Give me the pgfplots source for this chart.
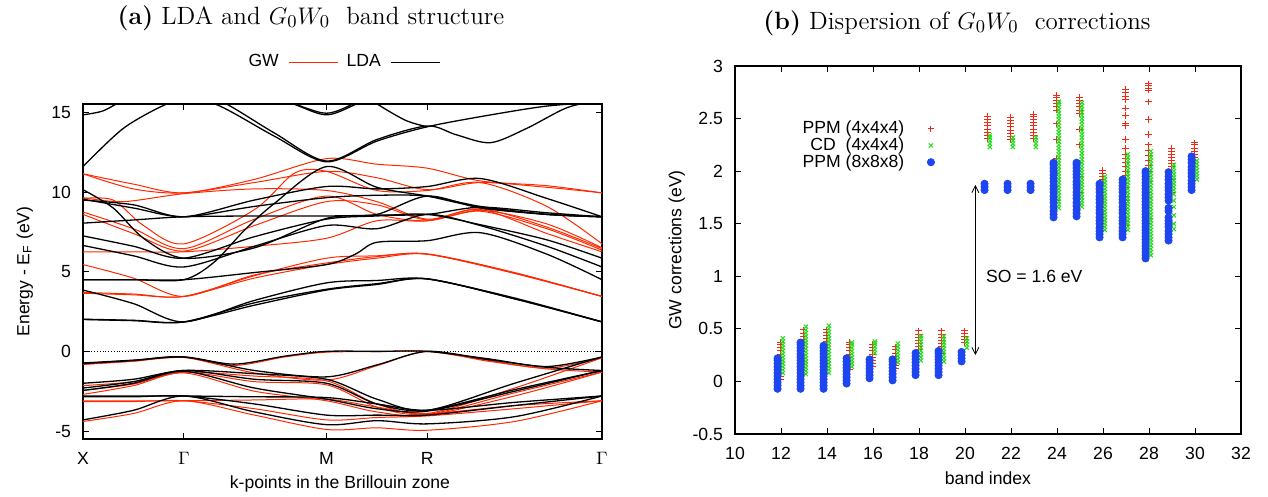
\documentclass[border=0pt]{standalone}
\usepackage{pgfplots}
\pgfplotsset{compat=1.18}
\usepackage{fontspec}
\usetikzlibrary{arrows.meta}
\newfontfamily\helv{Liberation Sans}
\newcommand{\lab}{\helv\fontsize{8.8}{10}\selectfont}

\definecolor{gwred}{RGB}{255,40,0}
\definecolor{ppmred}{RGB}{240,40,20}
\definecolor{cdgreen}{RGB}{40,220,30}
\definecolor{ppmblue}{RGB}{30,70,240}

\pgfplotsset{
  gw/.style={color=gwred, line width=0.5pt, smooth, forget plot},
  lda/.style={color=black, line width=0.65pt, smooth, forget plot},
  gnubox/.style={
    scale only axis,
    tick align=inside, major tick length=3pt,
    tick style={line width=0.5pt, black},
    axis line style={line width=0.7pt},
    tick label style={font=\lab},
    label style={font=\lab},
    /pgf/number format/assume math mode=true,
    yticklabel style={xshift=-2.5pt},
    xticklabel style={yshift=-3pt},
  },
}

\begin{document}
\begin{tikzpicture}
\useasboundingbox (0,0) rectangle (634pt,248.5pt);

% ---------------- (a) band structure ----------------
\node[font=\fontsize{12.5}{14}\selectfont] at (155.5pt,239.5pt) {\textbf{(a)} LDA and $G_0W_0$\ \ band structure};

\begin{axis}[gnubox,
  at={(41.5pt,29pt)}, anchor=south west,
  width=259.5pt, height=167.5pt,
  xmin=0, xmax=2.5731, ymin=-5.5, ymax=15.53,
  xtick={0,0.5,1.2071,1.7071,2.5731},
  xticklabels={X,$\Gamma$,M,R,$\Gamma$},
  ytick={-5,0,5,10,15},
  xlabel={k-points in the Brillouin zone},
  ylabel={Energy - E\textsubscript{F} (eV)},
  xlabel style={at={(axis description cs:0.495,-0.135)}, anchor=center},
  ylabel style={at={(axis description cs:-0.112,0.5)}, anchor=center},
  legend style={at={(axis description cs:0.5,1.125)}, anchor=center, draw=none, fill=none,
    font=\lab, legend columns=2,
    /tikz/every odd column/.append style={column sep=3pt},
    /tikz/every even column/.append style={column sep=2pt}},
  legend plot pos=right,
  legend image post style={xscale=1.42},
]
% Fermi level
\addplot[black, densely dotted, line width=0.4pt, forget plot] coordinates {(0,0) (2.5731,0)};

% GW bands: valence
\addplot[gw] coordinates {(0,-0.80)(0.25,-0.60)(0.5,-0.38)(0.75,-0.88)(1.0,-0.35)(1.2071,-0.05)(1.457,-0.02)(1.7071,0)(2.0,-0.55)(2.3,-1.05)(2.5731,-0.40)};
\addplot[gw] coordinates {(0,-0.82)(0.25,-0.62)(0.5,-0.38)(0.85,-1.35)(1.2071,-1.80)(1.457,-0.90)(1.7071,0)(2.0,-0.60)(2.3,-1.10)(2.5731,-1.30)};
\addplot[gw] coordinates {(0,-2.15)(0.25,-1.90)(0.5,-1.30)(0.85,-1.55)(1.2071,-1.85)(1.457,-3.30)(1.7071,-3.90)(2.14,-2.30)(2.5731,-0.40)};
\addplot[gw] coordinates {(0,-2.45)(0.25,-2.05)(0.5,-1.30)(0.85,-1.90)(1.2071,-2.10)(1.457,-3.50)(1.7071,-3.95)(2.14,-2.60)(2.5731,-1.30)};
\addplot[gw] coordinates {(0,-2.70)(0.25,-2.15)(0.5,-1.35)(0.85,-2.50)(1.2071,-3.10)(1.457,-3.80)(1.7071,-4.00)(2.14,-2.80)(2.5731,-1.30)};
\addplot[gw] coordinates {(0,-3.10)(0.25,-3.10)(0.5,-3.10)(0.85,-3.05)(1.2071,-3.00)(1.457,-3.50)(1.7071,-3.90)(2.14,-3.40)(2.5731,-3.10)};
\addplot[gw] coordinates {(0,-3.15)(0.25,-3.15)(0.5,-3.10)(0.85,-3.60)(1.2071,-4.30)(1.457,-4.15)(1.7071,-4.05)(2.14,-3.60)(2.5731,-3.10)};
\addplot[gw] coordinates {(0,-4.40)(0.25,-3.90)(0.5,-3.10)(0.85,-4.00)(1.2071,-4.90)(1.457,-4.80)(1.7071,-4.95)(2.14,-4.40)(2.5731,-3.10)};
% GW bands: conduction
\addplot[gw] coordinates {(0,3.65)(0.25,3.55)(0.5,3.45)(0.85,4.60)(1.2071,5.45)(1.457,5.85)(1.7071,6.10)(2.14,4.90)(2.5731,3.45)};
\addplot[gw] coordinates {(0,5.45)(0.25,4.60)(0.5,3.45)(0.85,4.80)(1.2071,5.55)(1.457,5.95)(1.7071,6.12)(2.14,4.95)(2.5731,3.45)};
\addplot[gw] coordinates {(0,3.70)(0.25,3.60)(0.5,3.45)(0.85,4.75)(1.2071,5.85)(1.457,6.00)(1.7071,6.10)(2.14,4.90)(2.5731,3.45)};
\addplot[gw] coordinates {(0,6.25)(0.25,6.25)(0.5,6.25)(0.85,6.60)(1.2071,7.10)(1.457,8.20)(1.7071,8.20)(1.97,8.90)(2.3,7.40)(2.5731,6.25)};
\addplot[gw] coordinates {(0,8.60)(0.25,7.40)(0.5,6.30)(0.85,7.90)(1.2071,9.40)(1.457,9.20)(1.7071,8.25)(1.97,8.80)(2.3,7.70)(2.5731,6.35)};
\addplot[gw] coordinates {(0,8.75)(0.25,7.70)(0.5,6.45)(0.85,8.30)(1.2071,9.75)(1.457,8.60)(1.7071,8.20)(1.97,8.85)(2.3,8.00)(2.5731,6.50)};
\addplot[gw] coordinates {(0,9.60)(0.15,9.50)(0.3,7.90)(0.5,6.75)(0.85,8.90)(1.05,11.20)(1.2071,11.30)(1.457,10.10)(1.7071,10.10)(1.97,10.60)(2.3,9.10)(2.5731,6.75)};
\addplot[gw] coordinates {(0,11.15)(0.25,10.20)(0.5,9.95)(0.85,10.60)(1.2071,11.30)(1.457,10.90)(1.7071,10.15)(1.97,10.60)(2.3,10.30)(2.5731,9.95)};
\addplot[gw] coordinates {(0,11.15)(0.25,10.50)(0.5,9.95)(0.85,10.80)(1.2071,12.10)(1.457,11.75)(1.7071,11.50)(1.97,10.70)(2.3,10.40)(2.5731,9.95)};
\addplot[gw] coordinates {(0,9.65)(0.2,9.40)(0.5,9.90)(0.85,10.20)(1.2071,10.10)(1.457,9.40)(1.7071,8.30)(1.97,8.95)(2.3,7.80)(2.5731,6.45)};

% LDA bands: valence
\addplot[lda] coordinates {(0,-0.73)(0.25,-0.55)(0.5,-0.35)(0.75,-0.80)(1.0,-0.30)(1.2071,0)(1.457,0)(1.7071,0)(2.0,-0.45)(2.3,-0.95)(2.5731,-0.35)};
\addplot[lda] coordinates {(0,-0.76)(0.25,-0.57)(0.5,-0.35)(0.85,-1.20)(1.2071,-1.60)(1.457,-0.85)(1.7071,0)(2.0,-0.50)(2.3,-1.00)(2.5731,-1.20)};
\addplot[lda] coordinates {(0,-2.00)(0.25,-1.75)(0.5,-1.20)(0.85,-1.40)(1.2071,-1.75)(1.457,-3.00)(1.7071,-3.70)(2.14,-2.00)(2.5731,-0.35)};
\addplot[lda] coordinates {(0,-2.30)(0.25,-1.90)(0.5,-1.20)(0.85,-1.75)(1.2071,-2.00)(1.457,-3.30)(1.7071,-3.70)(2.14,-2.40)(2.5731,-1.20)};
\addplot[lda] coordinates {(0,-2.45)(0.25,-2.00)(0.5,-1.25)(0.85,-2.30)(1.2071,-3.00)(1.457,-3.60)(1.7071,-3.75)(2.14,-2.50)(2.5731,-1.20)};
\addplot[lda] coordinates {(0,-2.80)(0.25,-2.80)(0.5,-2.80)(0.85,-2.85)(1.2071,-2.90)(1.457,-3.30)(1.7071,-3.70)(2.14,-3.20)(2.5731,-2.80)};
\addplot[lda] coordinates {(0,-2.85)(0.25,-2.85)(0.5,-2.80)(0.85,-3.30)(1.2071,-4.00)(1.457,-4.00)(1.7071,-4.00)(2.14,-3.40)(2.5731,-2.80)};
\addplot[lda] coordinates {(0,-4.30)(0.25,-3.70)(0.5,-2.80)(0.85,-3.80)(1.2071,-4.60)(1.457,-4.35)(1.7071,-4.55)(2.14,-4.10)(2.5731,-2.80)};
% LDA bands: conduction
\addplot[lda] coordinates {(0,2.02)(0.25,1.95)(0.5,1.85)(0.85,2.90)(1.2071,3.85)(1.457,4.20)(1.7071,4.55)(2.14,3.30)(2.5731,1.85)};
\addplot[lda] coordinates {(0,3.85)(0.25,3.00)(0.5,1.85)(0.85,3.20)(1.2071,4.30)(1.457,4.45)(1.7071,4.55)(2.14,3.35)(2.5731,1.85)};
\addplot[lda] coordinates {(0,2.00)(0.25,1.93)(0.5,1.85)(0.85,3.05)(1.2071,3.90)(1.457,4.25)(1.7071,4.55)(2.14,3.30)(2.5731,1.85)};
\addplot[lda] coordinates {(0,4.50)(0.25,4.50)(0.5,4.50)(0.85,4.95)(1.2071,5.45)(1.35,6.10)(1.457,6.85)(1.7071,6.95)(1.97,7.45)(2.3,6.10)(2.5731,4.50)};
\addplot[lda] coordinates {(0,4.50)(0.25,4.50)(0.5,4.50)(0.65,5.60)(0.8,7.60)(0.95,9.30)(1.2071,11.60)(1.457,10.30)(1.7071,9.75)(1.97,9.05)(2.3,8.60)(2.5731,8.45)};
\addplot[lda] coordinates {(0,6.65)(0.25,6.00)(0.5,5.30)(0.85,6.60)(1.2071,7.90)(1.457,7.70)(1.7071,8.60)(1.97,7.90)(2.3,6.60)(2.5731,5.30)};
\addplot[lda] coordinates {(0,7.25)(0.25,6.60)(0.5,5.85)(0.85,7.20)(1.2071,8.30)(1.457,8.50)(1.7071,8.60)(1.97,7.95)(2.3,7.00)(2.5731,5.85)};
\addplot[lda] coordinates {(0,8.05)(0.25,8.25)(0.5,8.45)(0.85,8.50)(1.2071,8.50)(1.457,8.55)(1.7071,8.60)(1.97,9.05)(2.3,8.70)(2.5731,8.45)};
\addplot[lda] coordinates {(0,9.55)(0.25,9.00)(0.5,8.45)(0.85,9.10)(1.2071,9.65)(1.457,9.80)(1.7071,9.75)(1.97,9.10)(2.3,8.60)(2.5731,8.45)};
\addplot[lda] coordinates {(0,9.50)(0.25,9.20)(0.5,8.45)(0.85,9.50)(1.2071,10.35)(1.457,10.20)(1.7071,10.35)(1.97,10.85)(2.3,9.60)(2.5731,8.45)};
\addplot[lda] coordinates {(0,10.15)(0.15,9.00)(0.3,7.10)(0.5,5.85)(0.85,6.50)(1.2071,8.35)(1.457,8.60)(1.7071,9.75)(1.97,9.00)(2.3,8.60)(2.5731,8.45)};
% LDA bands: high conduction
\addplot[lda] coordinates {(0,11.60)(0.2,14.00)(0.41,15.50)(0.5,15.60)(0.66,15.50)(0.95,13.50)(1.2071,11.90)(1.457,13.20)(1.7071,14.10)(2.0,14.80)(2.3,15.40)(2.5731,15.65)};
\addplot[lda] coordinates {(0.5,16.50)(0.7,15.60)(0.95,13.70)(1.2071,11.95)(1.457,13.30)(1.7071,14.15)(1.85,13.60)(2.02,13.10)(2.2,14.00)(2.4,15.30)(2.5731,15.80)};
\addplot[lda] coordinates {(0,14.85)(0.1,15.10)(0.2,15.80)(0.3,16.50)};
\addplot[lda] coordinates {(0.85,16.50)(1.05,15.50)(1.2071,14.85)(1.35,15.50)(1.5,16.50)};
\addplot[lda] coordinates {(0.9,16.30)(1.1,15.30)(1.2071,14.95)(1.3,15.30)(1.45,16.30)};
\addplot[lda] coordinates {(1.3,17.00)(1.45,15.60)(1.6,14.50)(1.7071,14.10)};

\addlegendimage{color=gwred, line width=0.6pt}
\addlegendentry{GW}
\addlegendimage{color=black, line width=0.6pt}
\addlegendentry{LDA}
\end{axis}

% ---------------- (b) GW corrections ----------------
\node[font=\fontsize{12.5}{14}\selectfont] at (478.5pt,237pt) {\textbf{(b)} Dispersion of $G_0W_0$\ \ corrections};

\begin{axis}[gnubox,
  at={(367.5pt,31.5pt)}, anchor=south west,
  width=253pt, height=184pt,
  xmin=10, xmax=32, ymin=-0.5, ymax=3,
  xtick={10,12,...,32},
  ytick={-0.5,0,0.5,1,1.5,2,2.5,3},
  xlabel={band index},
  ylabel={GW corrections (eV)},
  xlabel style={at={(axis description cs:0.5,-0.12)}, anchor=center},
  ylabel style={at={(axis description cs:-0.115,0.5)}, anchor=center},
  legend style={at={(axis description cs:0.407,0.784)}, anchor=east, draw=none, fill=none,
    font=\lab, row sep=-3.5pt,
    /tikz/every odd column/.append style={column sep=9.5pt}},
  legend cell align=right,
  legend plot pos=right,
]
% plasmon-pole model, 4x4x4 k-mesh
\addplot[only marks, mark=+, mark size=1.6pt, color=ppmred, mark options={line width=0.5pt}] coordinates {
(11.97,0.02)(11.97,0.05)(11.97,0.08)(11.97,0.11)(11.97,0.14)(11.97,0.17)(11.97,0.20)(11.97,0.23)(11.97,0.26)(11.97,0.29)(11.97,0.32)(11.97,0.35)(11.97,0.37)
(12.97,0.07)(12.97,0.10)(12.97,0.13)(12.97,0.16)(12.97,0.19)(12.97,0.22)(12.97,0.25)(12.97,0.28)(12.97,0.31)(12.97,0.34)(12.97,0.37)(12.97,0.40)(12.97,0.43)(12.97,0.46)(12.97,0.49)
(13.97,0.08)(13.97,0.11)(13.97,0.14)(13.97,0.17)(13.97,0.20)(13.97,0.23)(13.97,0.26)(13.97,0.29)(13.97,0.32)(13.97,0.35)(13.97,0.38)(13.97,0.41)(13.97,0.44)(13.97,0.47)(13.97,0.49)
(14.97,0.11)(14.97,0.14)(14.97,0.17)(14.97,0.20)(14.97,0.23)(14.97,0.26)(14.97,0.29)(14.97,0.32)(14.97,0.35)(14.97,0.37)
(15.97,0.14)(15.97,0.17)(15.97,0.20)(15.97,0.23)(15.97,0.26)(15.97,0.29)(15.97,0.32)(15.97,0.35)
(16.97,0.12)(16.97,0.15)(16.97,0.18)(16.97,0.21)(16.97,0.24)(16.97,0.27)(16.97,0.30)(16.97,0.33)
(17.97,0.24)(17.97,0.27)(17.97,0.30)(17.97,0.33)(17.97,0.36)(17.97,0.39)(17.97,0.42)(17.97,0.45)(17.97,0.48)
(18.97,0.27)(18.97,0.30)(18.97,0.33)(18.97,0.36)(18.97,0.39)(18.97,0.42)(18.97,0.45)(18.97,0.48)
(19.97,0.37)(19.97,0.40)(19.97,0.43)(19.97,0.46)(19.97,0.48)
(20.97,2.31)(20.97,2.34)(20.97,2.37)(20.97,2.40)(20.97,2.43)(20.97,2.46)(20.97,2.49)(20.97,2.52)
(21.97,2.30)(21.97,2.33)(21.97,2.36)(21.97,2.39)(21.97,2.42)(21.97,2.45)(21.97,2.48)(21.97,2.51)
(22.97,2.31)(22.97,2.34)(22.97,2.37)(22.97,2.40)(22.97,2.43)(22.97,2.46)(22.97,2.49)(22.97,2.52)(22.97,2.54)
(23.97,1.72)(23.97,1.85)(23.97,1.98)(23.97,2.12)(23.97,2.30)(23.97,2.45)(23.97,2.58)(23.97,2.61)(23.97,2.64)(23.97,2.67)(23.97,2.70)(23.97,2.72)
(24.97,1.68)(24.97,1.80)(24.97,1.95)(24.97,2.08)(24.97,2.25)(24.97,2.40)(24.97,2.55)(24.97,2.58)(24.97,2.61)(24.97,2.64)(24.97,2.67)(24.97,2.70)
(25.97,1.44)(25.97,1.47)(25.97,1.50)(25.97,1.53)(25.97,1.56)(25.97,1.59)(25.97,1.62)(25.97,1.65)(25.97,1.68)(25.97,1.71)(25.97,1.74)(25.97,1.77)(25.97,1.80)(25.97,1.83)(25.97,1.86)(25.97,1.89)(25.97,1.92)(25.97,1.95)(25.97,1.98)(25.97,2.01)
(26.97,1.44)(26.97,1.48)(26.97,1.52)(26.97,1.56)(26.97,1.60)(26.97,1.64)(26.97,1.68)(26.97,1.72)(26.97,1.76)(26.97,1.80)(26.97,1.84)(26.97,1.88)(26.97,1.92)(26.97,1.96)(26.97,2.00)(26.97,2.04)(26.97,2.08)(26.97,2.12)(26.97,2.16)(26.97,2.22)(26.97,2.30)(26.97,2.43)(26.97,2.45)(26.97,2.53)(26.97,2.60)(26.97,2.68)(26.97,2.71)(26.97,2.75)(26.97,2.78)
(27.97,1.50)(27.97,1.55)(27.97,1.60)(27.97,1.65)(27.97,1.70)(27.97,1.75)(27.97,1.80)(27.97,1.85)(27.97,1.90)(27.97,1.95)(27.97,2.00)(27.97,2.05)(27.97,2.10)(27.97,2.15)(27.97,2.20)(27.97,2.25)(27.97,2.35)(27.97,2.49)(27.97,2.66)(27.97,2.77)(27.97,2.79)(27.97,2.81)(27.97,2.83)
(28.97,1.65)(28.97,1.80)(28.97,1.92)(28.97,2.04)(28.97,2.07)(28.97,2.10)(28.97,2.13)(28.97,2.16)(28.97,2.19)(28.97,2.22)
(29.97,2.04)(29.97,2.07)(29.97,2.10)(29.97,2.13)(29.97,2.16)(29.97,2.19)(29.97,2.22)(29.97,2.25)(29.97,2.27)
};
\addlegendentry{PPM (4x4x4)}
% contour deformation, 4x4x4 k-mesh
\addplot[only marks, mark=x, mark size=1.5pt, color=cdgreen, mark options={line width=0.5pt}] coordinates {
(12.08,0.08)(12.08,0.11)(12.08,0.14)(12.08,0.17)(12.08,0.20)(12.08,0.23)(12.08,0.26)(12.08,0.29)(12.08,0.32)(12.08,0.35)(12.08,0.38)(12.08,0.41)
(13.08,0.07)(13.08,0.10)(13.08,0.13)(13.08,0.16)(13.08,0.19)(13.08,0.22)(13.08,0.25)(13.08,0.28)(13.08,0.31)(13.08,0.34)(13.08,0.37)(13.08,0.40)(13.08,0.43)(13.08,0.46)(13.08,0.49)(13.08,0.52)
(14.08,0.08)(14.08,0.11)(14.08,0.14)(14.08,0.17)(14.08,0.20)(14.08,0.23)(14.08,0.26)(14.08,0.29)(14.08,0.32)(14.08,0.35)(14.08,0.38)(14.08,0.41)(14.08,0.44)(14.08,0.47)(14.08,0.50)(14.08,0.53)
(15.08,0.14)(15.08,0.17)(15.08,0.20)(15.08,0.23)(15.08,0.26)(15.08,0.29)(15.08,0.32)(15.08,0.35)(15.08,0.37)
(16.08,0.27)(16.08,0.30)(16.08,0.33)(16.08,0.36)(16.08,0.38)
(17.08,0.18)(17.08,0.21)(17.08,0.24)(17.08,0.27)(17.08,0.30)(17.08,0.33)(17.08,0.36)
(18.08,0.20)(18.08,0.23)(18.08,0.26)(18.08,0.29)(18.08,0.32)(18.08,0.35)(18.08,0.38)(18.08,0.41)(18.08,0.43)
(19.08,0.19)(19.08,0.22)(19.08,0.25)(19.08,0.28)(19.08,0.31)(19.08,0.34)(19.08,0.37)(19.08,0.40)(19.08,0.43)
(20.08,0.32)(20.08,0.35)(20.08,0.38)(20.08,0.41)
(21.08,2.23)(21.08,2.26)(21.08,2.29)(21.08,2.32)(21.08,2.34)
(22.08,2.23)(22.08,2.26)(22.08,2.29)(22.08,2.32)
(23.08,2.23)(23.08,2.26)(23.08,2.29)(23.08,2.32)
(24.08,1.65)(24.08,1.68)(24.08,1.71)(24.08,1.74)(24.08,1.77)(24.08,1.80)(24.08,1.83)(24.08,1.86)(24.08,1.89)(24.08,1.92)(24.08,1.95)(24.08,1.98)(24.08,2.01)(24.08,2.04)(24.08,2.07)(24.08,2.10)(24.08,2.13)(24.08,2.16)(24.08,2.19)(24.08,2.22)(24.08,2.25)(24.08,2.28)(24.08,2.31)(24.08,2.34)(24.08,2.37)(24.08,2.40)(24.08,2.43)(24.08,2.46)(24.08,2.49)(24.08,2.52)(24.08,2.55)(24.08,2.58)(24.08,2.61)(24.08,2.64)(24.08,2.66)
(25.08,1.66)(25.08,1.69)(25.08,1.72)(25.08,1.75)(25.08,1.78)(25.08,1.81)(25.08,1.84)(25.08,1.87)(25.08,1.90)(25.08,1.93)(25.08,1.96)(25.08,1.99)(25.08,2.02)(25.08,2.05)(25.08,2.08)(25.08,2.11)(25.08,2.14)(25.08,2.17)(25.08,2.20)(25.08,2.23)(25.08,2.26)(25.08,2.29)(25.08,2.32)(25.08,2.35)(25.08,2.38)(25.08,2.41)(25.08,2.44)(25.08,2.47)(25.08,2.50)(25.08,2.53)(25.08,2.56)(25.08,2.59)(25.08,2.62)(25.08,2.65)
(26.08,1.44)(26.08,1.47)(26.08,1.50)(26.08,1.53)(26.08,1.56)(26.08,1.59)(26.08,1.62)(26.08,1.65)(26.08,1.68)(26.08,1.71)(26.08,1.74)(26.08,1.77)(26.08,1.80)(26.08,1.83)(26.08,1.86)(26.08,1.89)(26.08,1.92)(26.08,1.95)
(27.08,1.44)(27.08,1.47)(27.08,1.50)(27.08,1.53)(27.08,1.56)(27.08,1.59)(27.08,1.62)(27.08,1.65)(27.08,1.68)(27.08,1.71)(27.08,1.74)(27.08,1.77)(27.08,1.80)(27.08,1.83)(27.08,1.86)(27.08,1.89)(27.08,1.92)(27.08,1.95)(27.08,1.98)(27.08,2.01)(27.08,2.04)(27.08,2.07)(27.08,2.10)(27.08,2.13)(27.08,2.16)
(28.08,1.20)(28.08,1.23)(28.08,1.26)(28.08,1.29)(28.08,1.32)(28.08,1.35)(28.08,1.38)(28.08,1.41)(28.08,1.44)(28.08,1.47)(28.08,1.50)(28.08,1.53)(28.08,1.56)(28.08,1.59)(28.08,1.62)(28.08,1.65)(28.08,1.68)(28.08,1.71)(28.08,1.74)(28.08,1.77)(28.08,1.80)(28.08,1.83)(28.08,1.86)(28.08,1.89)(28.08,1.92)(28.08,1.95)(28.08,1.98)(28.08,2.01)(28.08,2.04)(28.08,2.07)(28.08,2.10)(28.08,2.13)(28.08,2.16)(28.08,2.19)
(29.08,1.45)(29.08,1.50)(29.08,1.58)(29.08,1.66)(29.08,1.72)(29.08,1.78)(29.08,1.82)(29.08,1.85)(29.08,1.88)(29.08,1.91)(29.08,1.94)(29.08,1.97)(29.08,2.00)(29.08,2.03)(29.08,2.06)
(30.08,1.92)(30.08,1.95)(30.08,1.98)(30.08,2.01)(30.08,2.04)(30.08,2.07)(30.08,2.10)
};
\addlegendentry{CD\ \ (4x4x4)}
% plasmon-pole model, 8x8x8 k-mesh
\addplot[only marks, mark=*, mark size=1.8pt, color=ppmblue] coordinates {
(11.85,-0.07)(11.85,-0.04)(11.85,-0.01)(11.85,0.02)(11.85,0.05)(11.85,0.08)(11.85,0.11)(11.85,0.14)(11.85,0.17)(11.85,0.20)(11.85,0.22)
(12.85,-0.07)(12.85,-0.04)(12.85,-0.01)(12.85,0.02)(12.85,0.05)(12.85,0.08)(12.85,0.11)(12.85,0.14)(12.85,0.17)(12.85,0.20)(12.85,0.23)(12.85,0.26)(12.85,0.29)(12.85,0.32)(12.85,0.35)(12.85,0.37)
(13.85,-0.07)(13.85,-0.04)(13.85,-0.01)(13.85,0.02)(13.85,0.05)(13.85,0.08)(13.85,0.11)(13.85,0.14)(13.85,0.17)(13.85,0.20)(13.85,0.23)(13.85,0.26)(13.85,0.29)(13.85,0.32)(13.85,0.34)
(14.85,-0.02)(14.85,0.01)(14.85,0.04)(14.85,0.07)(14.85,0.10)(14.85,0.13)(14.85,0.16)(14.85,0.19)(14.85,0.22)
(15.85,0.03)(15.85,0.06)(15.85,0.09)(15.85,0.12)(15.85,0.15)(15.85,0.18)(15.85,0.21)
(16.85,0.01)(16.85,0.04)(16.85,0.07)(16.85,0.10)(16.85,0.13)(16.85,0.16)(16.85,0.19)(16.85,0.21)
(17.85,0.06)(17.85,0.09)(17.85,0.12)(17.85,0.15)(17.85,0.18)(17.85,0.21)(17.85,0.24)(17.85,0.27)
(18.85,0.06)(18.85,0.09)(18.85,0.12)(18.85,0.15)(18.85,0.18)(18.85,0.21)(18.85,0.24)(18.85,0.27)(18.85,0.29)
(19.85,0.19)(19.85,0.22)(19.85,0.25)(19.85,0.28)
(20.85,1.82)(20.85,1.85)(20.85,1.88)
(21.85,1.82)(21.85,1.85)(21.85,1.88)
(22.85,1.82)(22.85,1.85)(22.85,1.88)
(23.85,1.56)(23.85,1.59)(23.85,1.62)(23.85,1.66)(23.85,1.70)(23.85,1.73)(23.85,1.76)(23.85,1.80)(23.85,1.83)(23.85,1.86)(23.85,1.90)(23.85,1.93)(23.85,1.96)(23.85,2.00)(23.85,2.03)(23.85,2.06)(23.85,2.08)
(24.85,1.57)(24.85,1.60)(24.85,1.63)(24.85,1.67)(24.85,1.70)(24.85,1.74)(24.85,1.77)(24.85,1.80)(24.85,1.84)(24.85,1.87)(24.85,1.90)(24.85,1.94)(24.85,1.97)(24.85,2.00)(24.85,2.03)(24.85,2.06)(24.85,2.08)
(25.85,1.37)(25.85,1.40)(25.85,1.43)(25.85,1.46)(25.85,1.50)(25.85,1.53)(25.85,1.56)(25.85,1.60)(25.85,1.63)(25.85,1.66)(25.85,1.70)(25.85,1.73)(25.85,1.76)(25.85,1.80)(25.85,1.83)(25.85,1.86)(25.85,1.88)
(26.85,1.37)(26.85,1.40)(26.85,1.43)(26.85,1.46)(26.85,1.50)(26.85,1.53)(26.85,1.56)(26.85,1.60)(26.85,1.63)(26.85,1.66)(26.85,1.70)(26.85,1.73)(26.85,1.76)(26.85,1.80)(26.85,1.83)(26.85,1.86)(26.85,1.89)(26.85,1.92)
(27.85,1.17)(27.85,1.20)(27.85,1.23)(27.85,1.26)(27.85,1.29)(27.85,1.32)(27.85,1.35)(27.85,1.38)(27.85,1.41)(27.85,1.44)(27.85,1.47)(27.85,1.50)(27.85,1.53)(27.85,1.56)(27.85,1.59)(27.85,1.62)(27.85,1.65)(27.85,1.68)(27.85,1.71)(27.85,1.74)(27.85,1.77)(27.85,1.80)(27.85,1.83)(27.85,1.86)(27.85,1.89)(27.85,1.92)(27.85,1.95)(27.85,1.98)(27.85,2.00)
(28.85,1.34)(28.85,1.37)(28.85,1.40)(28.85,1.43)(28.85,1.47)(28.85,1.50)(28.85,1.53)(28.85,1.56)(28.85,1.62)(28.85,1.65)(28.85,1.72)(28.85,1.75)(28.85,1.78)(28.85,1.82)(28.85,1.85)(28.85,1.88)(28.85,1.92)(28.85,1.95)(28.85,1.99)
(29.85,1.82)(29.85,1.85)(29.85,1.88)(29.85,1.91)(29.85,1.95)(29.85,1.98)(29.85,2.01)(29.85,2.04)(29.85,2.08)(29.85,2.11)(29.85,2.14)
};
\addlegendentry{PPM (8x8x8)}

% spin-orbit splitting
\draw[line width=0.4pt, {Straight Barb[length=3.5pt,width=3.5pt]}-{Straight Barb[length=3.5pt,width=3.5pt]}]
  (axis cs:20.45,0.25) -- (axis cs:20.45,1.87);
\node[anchor=west, font=\lab, inner sep=0pt] at (axis cs:20.9,1.0) {SO = 1.6 eV};
\end{axis}
\end{tikzpicture}
\end{document}
